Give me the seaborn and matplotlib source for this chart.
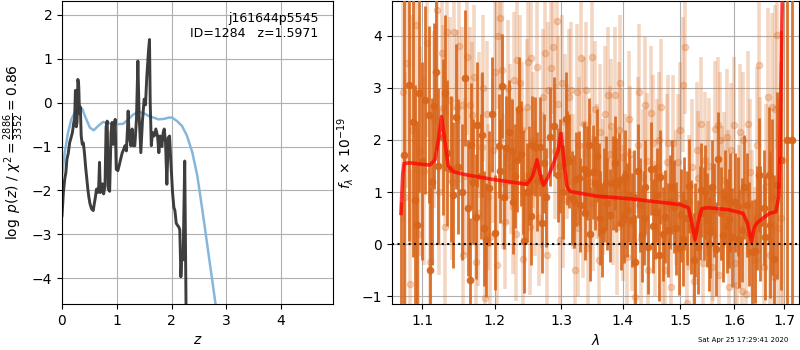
import numpy as np
import pandas as pd
import matplotlib
matplotlib.use("Agg")
import matplotlib.pyplot as plt
import seaborn as sns
from matplotlib.ticker import FixedLocator, FixedFormatter, NullLocator

# left panel: log p(z) from the fit (dark) and template prior (blue)
z_fit = [0.000, 0.025, 0.050, 0.070, 0.090, 0.115, 0.140, 0.165, 0.190, 0.215,
         0.230, 0.245, 0.260, 0.275, 0.290, 0.305, 0.320, 0.335, 0.350, 0.370,
         0.390, 0.410, 0.430, 0.450, 0.470, 0.490, 0.510, 0.540, 0.570, 0.590,
         0.610, 0.630, 0.650, 0.670, 0.685, 0.700, 0.720, 0.740, 0.760, 0.785,
         0.805, 0.825, 0.845, 0.870, 0.895, 0.915, 0.935, 0.955, 0.970, 0.990,
         1.020, 1.050, 1.070, 1.100, 1.130, 1.150, 1.175, 1.195, 1.207, 1.225,
         1.256, 1.280, 1.300, 1.329, 1.359, 1.385, 1.408, 1.439, 1.469, 1.500,
         1.524, 1.548, 1.580, 1.597, 1.610, 1.630, 1.652, 1.683, 1.713, 1.744,
         1.768, 1.792, 1.823, 1.847, 1.866, 1.890, 1.914, 1.939, 1.963, 1.987,
         2.018, 2.042, 2.060, 2.085, 2.110, 2.130, 2.150, 2.170, 2.190, 2.210,
         2.240, 2.265, 2.300]
logpz = [-2.58, -2.05, -1.74, -1.60, -1.29, -1.15, -0.91, -0.80, -0.68, -0.45,
         -0.38, 0.28, -0.55, -0.45, 0.53, 0.40, -0.25, -0.10, -0.75, -0.95,
         -0.92, -1.15, -1.45, -1.70, -1.95, -2.15, -2.30, -2.42, -2.46, -2.30,
         -2.15, -1.97, -2.05, -1.90, -1.36, -2.05, -1.93, -1.85, -2.08, -1.89,
         -0.55, -0.42, -1.97, -2.02, -0.68, -0.45, -0.95, -0.60, -0.38, -1.52,
         -1.55, -1.40, -1.29, -1.14, -1.05, -0.98, -1.10, -0.60, -0.19, -0.75,
         -0.98, -0.60, -0.98, -0.98, -0.38, 0.95, -0.30, -1.14, -0.40, 0.08,
         -0.05, 0.60, 1.20, 1.44, 0.00, -0.98, -0.68, -0.76, -0.60, -0.76,
         -1.14, -0.76, -1.00, -0.68, -0.60, -0.91, -1.86, -0.80, -0.76, -1.36,
         -2.05, -2.39, -2.45, -2.75, -2.80, -2.83, -2.90, -3.97, -3.43, -3.58,
         -1.33, -4.80, -6.50]

z_prior = [0.00, 0.05, 0.11, 0.17, 0.25, 0.32, 0.37, 0.43, 0.51, 0.58,
           0.66, 0.75, 0.85, 0.94, 1.03, 1.12, 1.21, 1.30, 1.40, 1.49,
           1.58, 1.67, 1.76, 1.86, 1.95, 2.01, 2.10, 2.19, 2.28, 2.38,
           2.47, 2.56, 2.62, 2.68, 2.74, 2.80, 2.90]
logp_prior = [-1.67, -1.14, -0.68, -0.38, -0.19, -0.11, -0.14, -0.34, -0.57, -0.63,
              -0.53, -0.44, -0.47, -0.49, -0.49, -0.48, -0.38, -0.27, -0.21, -0.24,
              -0.30, -0.34, -0.38, -0.37, -0.34, -0.34, -0.42, -0.53, -0.75, -1.14,
              -1.67, -2.43, -2.96, -3.50, -4.03, -4.57, -5.50]

# right panel: binned spectrum (dark), unbinned spectrum (light), best-fit model
wave_bin = [1.0722, 1.0762, 1.0826, 1.0873, 1.0909, 1.0934, 1.0990, 1.1040, 1.1084, 1.1102,
            1.1155, 1.1210, 1.1273, 1.1330, 1.1380, 1.1415, 1.1458, 1.1476, 1.1536, 1.1574,
            1.1615, 1.1643, 1.1690, 1.1727, 1.1746, 1.1800, 1.1850, 1.1879, 1.1920, 1.1960,
            1.1998, 1.2056, 1.2109, 1.2168, 1.2202, 1.2251, 1.2270, 1.2325, 1.2384, 1.2438,
            1.2480, 1.2513, 1.2533, 1.2553, 1.2598, 1.2634, 1.2674, 1.2730, 1.2766, 1.2828,
            1.2890, 1.2947, 1.2983, 1.3030, 1.3067, 1.3088, 1.3162, 1.3193, 1.3230, 1.3273,
            1.3300, 1.3353, 1.3407, 1.3461, 1.3499, 1.3543, 1.3598, 1.3653, 1.3690, 1.3724,
            1.3735, 1.3780, 1.3835, 1.3863, 1.3891, 1.3930, 1.3970, 1.4014, 1.4070, 1.4110,
            1.4155, 1.4211, 1.4251, 1.4290, 1.4326, 1.4383, 1.4424, 1.4481, 1.4520, 1.4557,
            1.4586, 1.4645, 1.4690, 1.4733, 1.4775, 1.4822, 1.4882, 1.4930, 1.4972, 1.5020,
            1.5074, 1.5153, 1.5196, 1.5240, 1.5275, 1.5325, 1.5380, 1.5429, 1.5491, 1.5553,
            1.5616, 1.5697, 1.5742, 1.5792, 1.5856, 1.5900, 1.5964, 1.6020, 1.6073, 1.6157,
            1.6242, 1.6288, 1.6340, 1.6399, 1.6484, 1.6516, 1.6616, 1.6683, 1.6716, 1.6783,
            1.6851, 1.6932, 1.7049, 1.7153,
            1.0962, 1.1128, 1.1182, 1.1300, 1.1668, 1.1825, 1.2082, 1.2138, 1.2298, 1.2355,
            1.2411, 1.2700, 1.3125, 1.3380, 1.3434, 1.3571, 1.3626, 1.4042, 1.4183, 1.4355,
            1.4616, 1.4852, 1.5048, 1.5114, 1.5353, 1.5460, 1.5522, 1.5585, 1.5657, 1.5824,
            1.5932, 1.6100, 1.6200, 1.6450, 1.6580, 1.6750]
flux_bin = [-1.50, 1.71, 3.06, 2.35, 0.85, 0.37, 1.60, 2.77, 2.48, -0.50,
            2.65, 1.50, 2.06, 1.75, 1.45, 0.95, 2.45, 1.49, 1.00, 3.19,
            0.69, -0.69, 1.20, 0.53, 2.29, 1.30, 0.30, 0.08, 1.07, 2.49,
            0.22, 1.89, 3.03, 1.84, 2.16, 1.78, 0.81, 1.62, 1.74, 0.06,
            1.00, 1.31, 0.54, 1.90, 1.87, 1.21, 1.87, 1.55, 0.90, 2.06,
            2.26, 1.33, 1.50, 1.00, 2.40, 1.65, 0.88, 0.82, 1.25, 1.27,
            0.75, 1.45, 1.36, 0.20, 1.38, 1.17, 1.05, 0.27, 0.95, 1.18,
            0.78, 0.55, 1.18, 1.56, 1.13, 1.24, 0.40, 0.53, 0.65, 0.95,
            0.46, -0.34, 1.41, 0.75, 0.17, 1.09, -0.06, 1.45, 0.35, 0.62,
            0.94, 1.29, 0.20, 0.53, 0.27, 0.81, 0.72, 0.30, -0.08, 0.55,
            0.78, 1.12, 0.33, -0.30, 0.27, -0.05, 1.04, 0.59, 0.46, 0.24,
            0.65, 1.63, 0.59, 0.17, 0.35, 0.49, 0.13, 0.80, 0.73, 0.27,
            0.75, 0.20, -0.15, -0.13, 1.33, 0.40, 0.13, 1.33, 0.37, -0.28,
            1.13, 1.62, 2.00, 2.00,
            2.90, 1.20, 3.30, 2.90, 1.90, 2.10, 1.40, 0.90, 1.30, 2.60,
            1.20, 0.40, 1.60, 0.60, 1.90, 1.70, 0.50, 1.30, 0.90, 0.50,
            -0.20, 1.10, 0.10, 0.50, 0.60, 1.00, 0.00, 1.10, -0.10, 0.90,
            0.80, 0.10, 1.10, 0.50, 0.70, 0.90]
err_bin = [2.3, 3.5, 3.0, 2.6, 2.2, 2.0, 1.9, 1.8, 1.7, 1.6,
           1.6, 1.5, 1.5, 1.4, 1.4, 1.4, 1.4, 1.3, 1.3, 1.3,
           1.3, 1.2, 1.2, 1.2, 1.2, 1.2, 1.1, 1.1, 1.1, 1.1,
           1.1, 1.0, 1.0, 1.0, 1.0, 1.0, 1.0, 1.0, 1.0, 1.0,
           0.95, 0.95, 0.95, 0.95, 0.95, 0.95, 0.95, 0.95, 0.95, 0.95,
           0.95, 0.9, 0.9, 0.9, 0.9, 0.9, 0.9, 0.9, 0.9, 0.9,
           0.9, 0.9, 0.9, 0.9, 0.9, 0.9, 0.9, 0.9, 0.9, 0.9,
           0.9, 0.9, 0.9, 0.9, 0.9, 0.9, 0.9, 0.9, 0.9, 0.9,
           0.9, 0.9, 0.9, 0.9, 0.9, 0.9, 0.9, 0.9, 0.9, 0.9,
           0.9, 0.9, 0.9, 0.9, 0.9, 0.9, 0.9, 0.9, 0.9, 0.9,
           0.9, 0.9, 0.9, 0.9, 0.9, 0.9, 0.9, 0.9, 0.9, 0.9,
           0.9, 0.9, 0.9, 0.9, 0.9, 0.95, 0.95, 0.95, 0.95, 1.0,
           1.0, 1.0, 1.0, 1.0, 1.1, 1.1, 1.2, 1.3, 1.4, 1.6,
           1.8, 2.5, 8.0, 8.0,
           1.9, 1.6, 1.5, 1.5, 1.2, 1.2, 1.0, 1.0, 1.0, 1.0,
           1.0, 0.95, 0.9, 0.9, 0.9, 0.9, 0.9, 0.9, 0.9, 0.9,
           0.9, 0.9, 0.9, 0.9, 0.9, 0.9, 0.9, 0.9, 0.9, 0.9,
           0.95, 0.95, 1.0, 1.0, 1.1, 1.5]

wave_raw = [1.0744, 1.0796, 1.0839, 1.0947, 1.0969, 1.1065, 1.1102, 1.1201, 1.1259, 1.1282,
            1.1304, 1.1336, 1.1372, 1.1427, 1.1464, 1.1533, 1.1556, 1.1603, 1.1649, 1.1673,
            1.1729, 1.1781, 1.1814, 1.1862, 1.1910, 1.1934, 1.2053, 1.2078, 1.2102, 1.2150,
            1.2175, 1.2223, 1.2262, 1.2282, 1.2332, 1.2371, 1.2421, 1.2471, 1.2521, 1.2536,
            1.2597, 1.2632, 1.2698, 1.2724, 1.2749, 1.2800, 1.2837, 1.2868, 1.2904, 1.2929,
            1.2981, 1.3033, 1.3059, 1.3096, 1.3128, 1.3149, 1.3218, 1.3244, 1.3287, 1.3308,
            1.3340, 1.3394, 1.3431, 1.3491, 1.3512, 1.3566, 1.3621, 1.3676, 1.3758, 1.3786,
            1.3797, 1.3869, 1.3908, 1.3953, 1.3981, 1.4037, 1.4076, 1.4121, 1.4206, 1.4281,
            1.4338, 1.4378, 1.4435, 1.4482, 1.4523, 1.4581, 1.4657, 1.4698, 1.4758, 1.4787,
            1.4829, 1.4877, 1.4966, 1.5057, 1.5087, 1.5117, 1.5208, 1.5299, 1.5330, 1.5411,
            1.5454, 1.5504, 1.5579, 1.5642, 1.5692, 1.5736, 1.5768, 1.5812, 1.5862, 1.5913,
            1.5990, 1.6022, 1.6054, 1.6119, 1.6183, 1.6235, 1.6314, 1.6413, 1.6479, 1.6511,
            1.6577, 1.6657, 1.6744, 1.6778, 1.6845, 1.6878, 1.6980,
            1.0770, 1.0870, 1.0920, 1.1020, 1.1150, 1.1230, 1.1400, 1.1500, 1.1580, 1.1700,
            1.1760, 1.1840, 1.1890, 1.1970, 1.2000, 1.2030, 1.2120, 1.2200, 1.2240, 1.2310,
            1.2400, 1.2450, 1.2490, 1.2560, 1.2660, 1.2780, 1.2950, 1.3010, 1.3180, 1.3265,
            1.3360, 1.3460, 1.3540, 1.3600, 1.3700, 1.3830, 1.3930, 1.4000, 1.4100, 1.4160,
            1.4250, 1.4310, 1.4410, 1.4550, 1.4620, 1.4730, 1.4920, 1.5000, 1.5160, 1.5250,
            1.5370, 1.5530, 1.5600, 1.5720, 1.5880, 1.5950, 1.6090, 1.6150, 1.6270, 1.6350,
            1.6440, 1.6620, 1.6700, 1.6810, 1.6920]
flux_raw = [2.93, 3.47, -0.76, 0.20, 1.78, 3.86, -0.34, 4.50, 3.67, 2.61,
            0.33, 4.08, 2.77, 4.08, 2.61, 2.67, -0.21, 3.60, 2.67, 2.48,
            -0.34, 2.29, 1.87, -1.04, 0.91, 0.14, 3.99, 4.34, 3.35, 0.43,
            1.68, 2.16, 0.72, 3.15, 3.54, 3.10, -0.28, 2.64, 0.33, 3.57,
            1.07, 3.41, 1.23, 2.83, 3.67, 2.96, 3.38, 3.79, 1.78, 4.28,
            0.08, 0.85, 2.35, 1.78, 2.83, 2.96, -0.50, 2.93, 1.90, 3.57,
            0.65, 2.96, -0.08, 3.59, 0.78, 1.39, 2.16, 1.10, 2.87, 1.74,
            2.26, 2.87, 0.33, 3.09, 1.68, 1.20, -0.24, 1.74, -1.01, 2.93,
            1.29, 2.67, -0.50, 2.51, 1.94, 1.49, 2.64, 0.08, 1.58, 1.94,
            -0.82, 1.94, 1.58, 3.06, 3.79, -1.14, 1.49, 1.81, 1.26, -0.37,
            1.62, 1.07, -0.44, 2.22, 2.29, 2.00, 0.97, 1.23, 2.06, -0.82,
            2.29, -0.37, -0.79, 2.16, 2.00, -0.95, 1.39, -0.31, 3.44, 1.33,
            -0.44, 2.83, 2.64, -0.63, 4.02, 0.30, 1.62,
            0.90, 2.20, 4.20, 1.40, 2.40, 1.00, 1.20, 3.80, 1.30, 3.20,
            0.60, 3.00, 2.50, 1.80, 3.30, -0.40, 1.20, 3.00, 1.50, 0.20,
            2.20, 1.30, 3.50, 2.00, 0.50, -0.20, 2.70, 3.10, 1.20, 0.30,
            2.30, 1.20, 2.60, -0.30, 2.50, 0.90, 2.20, 0.60, 2.40, 0.40,
            1.90, 0.10, 1.60, 0.30, 2.00, -0.50, 0.90, 2.20, 0.80, -0.70,
            2.30, 1.50, 0.20, -0.60, 0.90, 1.80, 0.60, -0.90, 2.30, 0.40,
            1.90, 1.10, -0.20, 2.60, 0.50]
err_raw = [2.5, 2.4, 2.2, 2.0, 2.0, 1.8, 1.8, 1.7, 1.7, 1.6,
           1.6, 1.6, 1.6, 1.5, 1.5, 1.5, 1.5, 1.5, 1.5, 1.4,
           1.4, 1.4, 1.4, 1.4, 1.4, 1.4, 1.4, 1.4, 1.4, 1.3,
           1.3, 1.3, 1.3, 1.3, 1.3, 1.3, 1.3, 1.3, 1.3, 1.3,
           1.3, 1.3, 1.3, 1.3, 1.3, 1.3, 1.3, 1.3, 1.3, 1.3,
           1.3, 1.3, 1.3, 1.3, 1.3, 1.3, 1.3, 1.3, 1.3, 1.3,
           1.3, 1.3, 1.3, 1.3, 1.3, 1.3, 1.3, 1.3, 1.3, 1.3,
           1.3, 1.3, 1.3, 1.3, 1.3, 1.3, 1.3, 1.3, 1.3, 1.3,
           1.3, 1.3, 1.3, 1.3, 1.3, 1.3, 1.3, 1.3, 1.3, 1.3,
           1.3, 1.3, 1.3, 1.3, 1.3, 1.3, 1.3, 1.3, 1.3, 1.3,
           1.3, 1.3, 1.3, 1.3, 1.3, 1.3, 1.3, 1.3, 1.3, 1.3,
           1.3, 1.3, 1.3, 1.3, 1.3, 1.4, 1.4, 1.4, 1.5, 1.5,
           1.6, 1.7, 1.8, 1.9, 2.2, 2.5, 3.0,
           2.4, 2.2, 2.0, 1.8, 1.7, 1.6, 1.5, 1.5, 1.5, 1.4,
           1.4, 1.4, 1.4, 1.4, 1.4, 1.4, 1.3, 1.3, 1.3, 1.3,
           1.3, 1.3, 1.3, 1.3, 1.3, 1.3, 1.3, 1.3, 1.3, 1.3,
           1.3, 1.3, 1.3, 1.3, 1.3, 1.3, 1.3, 1.3, 1.3, 1.3,
           1.3, 1.3, 1.3, 1.3, 1.3, 1.3, 1.3, 1.3, 1.3, 1.3,
           1.3, 1.3, 1.3, 1.3, 1.3, 1.3, 1.3, 1.4, 1.4, 1.4,
           1.5, 1.6, 1.8, 2.0, 3.0]

wave_model = [1.0722, 1.0745, 1.0762, 1.0850, 1.1000, 1.1102, 1.1170, 1.1220, 1.1259, 1.1300,
              1.1350, 1.1418, 1.1600, 1.1986, 1.2300, 1.2475, 1.2560, 1.2627, 1.2680, 1.2727,
              1.2800, 1.2880, 1.2950, 1.2995, 1.3040, 1.3090, 1.3141, 1.3571, 1.4126, 1.4994,
              1.5145, 1.5200, 1.5267, 1.5330, 1.5391, 1.5500, 1.5900, 1.6175, 1.6260, 1.6339,
              1.6390, 1.6437, 1.6568, 1.6696, 1.6826, 1.6880, 1.6905, 1.6944, 1.6970]
flux_model = [0.59, 1.35, 1.55, 1.56, 1.53, 1.52, 1.62, 2.05, 2.45, 2.00,
              1.50, 1.39, 1.33, 1.24, 1.18, 1.15, 1.30, 1.62, 1.30, 1.13,
              1.30, 1.55, 1.80, 2.13, 1.60, 1.10, 1.01, 0.92, 0.87, 0.76,
              0.70, 0.45, 0.08, 0.45, 0.68, 0.70, 0.66, 0.59, 0.40, 0.04,
              0.30, 0.40, 0.50, 0.59, 0.62, 0.90, 1.62, 4.10, 5.50]

wave_ticks = [1.1, 1.2, 1.3, 1.4, 1.5, 1.6, 1.7]

pz = pd.DataFrame({"z": z_fit, "logpz": logpz})
prior = pd.DataFrame({"z": z_prior, "logp": logp_prior})
model = pd.DataFrame({"wave": wave_model, "flux": flux_model})

orange = "#d8651a"

fig = plt.figure(figsize=(8, 3.5), dpi=100)
ax1 = fig.add_axes([0.0775, 0.1314, 0.339, 0.866])
ax2 = fig.add_axes([0.4896, 0.1314, 0.509, 0.866])

# ---- left: p(z)
sns.lineplot(data=prior, x="z", y="logp", ax=ax1, color="#86b7db", lw=1.8,
             sort=False, estimator=None)
sns.lineplot(data=pz, x="z", y="logpz", ax=ax1, color="0.2", lw=2.1, alpha=0.95,
             sort=False, estimator=None)
ax1.set_xlim(0, 4.95)
ax1.set_ylim(-4.59, 2.32)
ax1.set_xticks([0, 1, 2, 3, 4])
ax1.set_yticks([-4, -3, -2, -1, 0, 1, 2])
ax1.grid(True)
ax1.set_xlabel(r"$z$")
ax1.set_ylabel(r"$\log\ p(z)$ / $\chi^2=\frac{2886}{3352}=0.86$")
ax1.text(0.945, 0.965, "j161644p5545\nID=1284   z=1.5971", transform=ax1.transAxes,
         ha="right", va="top", fontsize=9)

# ---- right: spectrum
ax2.errorbar(wave_raw, flux_raw, yerr=err_raw, fmt="o", color=orange, ms=4.5,
             elinewidth=2.6, alpha=0.26, zorder=2)
ax2.errorbar(wave_bin, flux_bin, yerr=err_bin, fmt="o", color=orange, ms=4.5,
             elinewidth=2.0, alpha=0.9, zorder=3)
sns.lineplot(data=model, x="wave", y="flux", ax=ax2, color="red", lw=2.6, alpha=0.75,
             sort=False, estimator=None, zorder=4)
ax2.axhline(0, color="k", ls=":", lw=1.5, zorder=5)
ax2.set_xscale("log")
ax2.set_xlim(1.0603, 1.7297)
ax2.set_ylim(-1.15, 4.67)
ax2.xaxis.set_major_locator(FixedLocator(wave_ticks))
ax2.xaxis.set_major_formatter(FixedFormatter([f"{w:.1f}" for w in wave_ticks]))
ax2.xaxis.set_minor_locator(NullLocator())
ax2.set_yticks([-1, 0, 1, 2, 3, 4])
ax2.grid(True)
ax2.set_xlabel(r"$\lambda$")
ax2.set_ylabel(r"$f_\lambda\,\times\,10^{-19}$")

fig.text(0.985, 0.028, "Sat Apr 25 17:29:41 2020", ha="right", va="center", fontsize=5)

fig.savefig("out.png", dpi=100)
